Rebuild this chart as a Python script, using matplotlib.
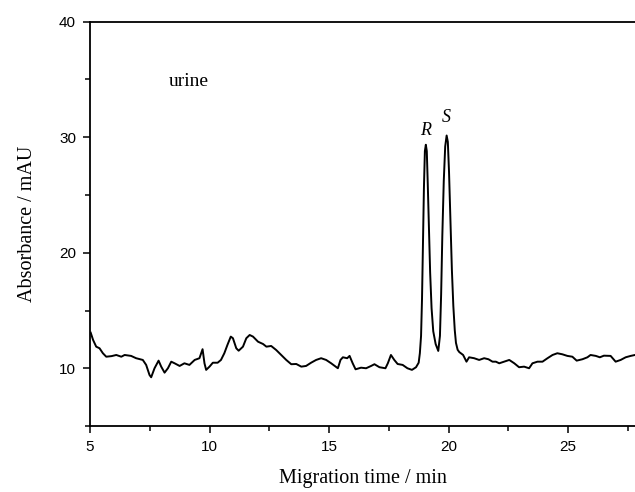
import matplotlib
matplotlib.use("Agg")
import matplotlib.pyplot as plt
from matplotlib.ticker import MultipleLocator

# electropherogram trace (min, mAU)
time = [5.03, 5.13, 5.26, 5.40, 5.54, 5.68, 5.90, 6.10, 6.31, 6.45, 6.72, 6.93,
        7.21, 7.35, 7.49, 7.56, 7.70, 7.87, 7.98, 8.12, 8.26, 8.40, 8.54, 8.75,
        8.95, 9.16, 9.38, 9.58, 9.71, 9.79, 9.86, 10.00, 10.14, 10.34, 10.48,
        10.62, 10.75, 10.89, 10.98, 11.12, 11.22, 11.40, 11.54, 11.68, 11.82,
        12.03, 12.24, 12.38, 12.58, 12.79, 13.00, 13.21, 13.42, 13.63, 13.84,
        14.04, 14.25, 14.46, 14.67, 14.88, 15.09, 15.37, 15.48, 15.58, 15.76,
        15.86, 15.99, 16.11, 16.34, 16.55, 16.76, 16.90, 17.11, 17.36, 17.46,
        17.59, 17.73, 17.87, 18.08, 18.28, 18.47, 18.64, 18.75, 18.80, 18.85,
        18.89, 18.93, 18.97, 19.01, 19.05, 19.09, 19.13, 19.18, 19.23, 19.29,
        19.36, 19.46, 19.57, 19.64, 19.69, 19.74, 19.80, 19.86, 19.92, 19.97,
        20.02, 20.08, 20.14, 20.20, 20.26, 20.31, 20.38, 20.45, 20.61, 20.75,
        20.86, 21.07, 21.28, 21.49, 21.67, 21.84, 21.98, 22.12, 22.33, 22.54,
        22.75, 22.95, 23.16, 23.37, 23.51, 23.72, 23.93, 24.14, 24.35, 24.55,
        24.76, 24.97, 25.18, 25.36, 25.60, 25.81, 25.94, 26.16, 26.33, 26.50,
        26.78, 26.99, 27.20, 27.41, 27.62, 27.80]
absorbance = [13.08, 12.45, 11.87, 11.73, 11.30, 11.00, 11.05, 11.15, 11.00,
              11.15, 11.07, 10.87, 10.72, 10.29, 9.42, 9.22, 10.00, 10.66,
              10.14, 9.62, 10.00, 10.57, 10.43, 10.20, 10.43, 10.29, 10.72,
              10.87, 11.65, 10.43, 9.86, 10.14, 10.48, 10.48, 10.72, 11.30,
              12.02, 12.74, 12.60, 11.73, 11.52, 11.87, 12.60, 12.88, 12.74,
              12.30, 12.10, 11.87, 11.93, 11.58, 11.15, 10.72, 10.35, 10.37,
              10.14, 10.20, 10.48, 10.72, 10.87, 10.72, 10.43, 10.00, 10.72,
              10.95, 10.87, 11.07, 10.43, 9.91, 10.05, 10.00, 10.20, 10.35,
              10.09, 10.00, 10.43, 11.15, 10.72, 10.37, 10.29, 10.00, 9.86,
              10.09, 10.48, 11.30, 12.80, 16.00, 20.80, 25.60, 28.80, 29.35,
              28.80, 26.00, 22.00, 18.30, 15.20, 13.20, 12.10, 11.50, 12.80,
              16.40, 21.50, 26.20, 29.20, 30.15, 29.60, 27.00, 22.60, 18.50,
              15.40, 13.30, 12.20, 11.60, 11.40, 11.15, 10.57, 10.95, 10.87,
              10.72, 10.87, 10.78, 10.57, 10.57, 10.43, 10.57, 10.72, 10.43,
              10.09, 10.14, 10.00, 10.43, 10.57, 10.57, 10.87, 11.15, 11.30,
              11.21, 11.07, 11.00, 10.66, 10.78, 10.95, 11.15, 11.07, 10.95,
              11.09, 11.07, 10.57, 10.72, 10.95, 11.07, 11.15]

serif = ["Liberation Serif", "DejaVu Serif"]
plt.rcParams["font.family"] = ["Liberation Sans", "DejaVu Sans"]

fig = plt.figure(figsize=(6.35, 4.92), dpi=100)
ax = fig.add_axes([0.1417, 0.1341, 0.8583, 0.8218])

ax.plot(time, absorbance, color="black", lw=1.4)

ax.set_xlim(5, 27.8)
ax.set_ylim(5, 40)
ax.xaxis.set_major_locator(MultipleLocator(5))
ax.xaxis.set_minor_locator(MultipleLocator(2.5))
ax.yaxis.set_major_locator(MultipleLocator(10))
ax.yaxis.set_minor_locator(MultipleLocator(5))
ax.tick_params(which="major", direction="out", length=5, width=1.1, pad=5,
               labelsize=11, colors="black")
ax.tick_params(which="minor", direction="out", length=3.5, width=1.1)

for s in ["left", "top", "bottom"]:
    ax.spines[s].set_linewidth(1.3)
ax.spines["right"].set_visible(False)

ax.set_xlabel("Migration time / min", family=serif, fontsize=14.5, labelpad=11)
ax.set_ylabel("Absorbance / mAU", family=serif, fontsize=14.5, labelpad=16)

ax.text(8.3, 34.8, "urine", family=serif, fontsize=14, va="center")
ax.text(19.03, 30.6, "R", family=serif, style="italic", fontsize=13,
        ha="center", va="center")
ax.text(19.92, 31.7, "S", family=serif, style="italic", fontsize=13,
        ha="center", va="center")

fig.savefig("out.png", dpi=100)
